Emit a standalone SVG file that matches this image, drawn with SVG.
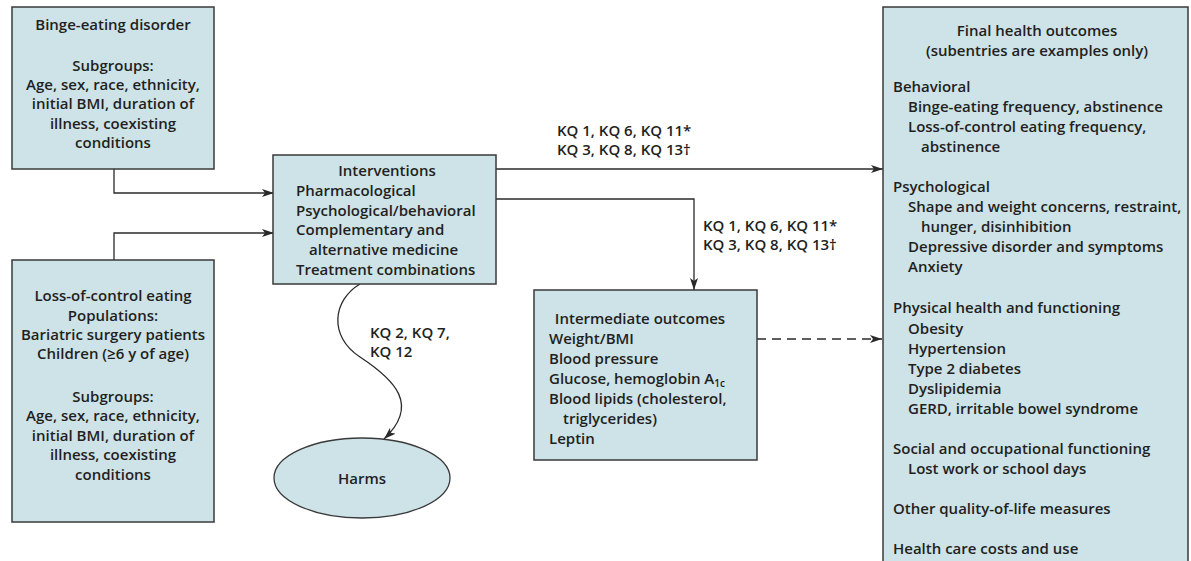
<svg xmlns="http://www.w3.org/2000/svg" width="1191" height="561" viewBox="0 0 1191 561">
<style>
.box{fill:#cde3e8;stroke:#3a3a3a;stroke-width:1.5}
text{font-family:"Open Sans","Noto Sans",sans-serif;font-size:15px;font-weight:600;fill:#231f20}
.c{text-anchor:middle}
.ln{fill:none;stroke:#2a2a2a;stroke-width:1.3}
.dash{stroke-dasharray:9 6}
</style>
<defs>
<marker id="ah" viewBox="0 0 12 8" refX="12" refY="4" markerWidth="12" markerHeight="8" markerUnits="userSpaceOnUse" orient="auto">
<path d="M0,0 L12,4 L0,8 L3,4 Z" fill="#2a2a2a"/>
</marker>
</defs>
<rect width="1191" height="561" fill="#fff"/>
<g id="connectors">
<path class="ln" d="M114,169 V193 H274" marker-end="url(#ah)"/>
<path class="ln" d="M114,260 V233 H274" marker-end="url(#ah)"/>
<path class="ln" d="M496,169 H883" marker-end="url(#ah)"/>
<path class="ln" d="M496,199 H694 V290" marker-end="url(#ah)"/>
<path class="ln dash" d="M757,339 H882" marker-end="url(#ah)"/>
<path class="ln" d="M360,284 C333,300 328,336 360,357 C395,380 420,405 384,439" marker-end="url(#ah)"/>
<text x="557" y="136">KQ 1, KQ 6, KQ 11*</text>
<text x="557" y="155">KQ 3, KQ 8, KQ 13†</text>
<text x="703" y="231">KQ 1, KQ 6, KQ 11*</text>
<text x="703" y="250">KQ 3, KQ 8, KQ 13†</text>
<text x="370" y="338">KQ 2, KQ 7,</text>
<text x="370" y="357">KQ 12</text>
</g>
<g id="binge">
<rect class="box" x="12" y="7" width="202" height="162"/>
<text class="c" x="113" y="30">Binge-eating disorder</text>
<text class="c" x="113" y="71">Subgroups:</text>
<text class="c" x="113" y="90">Age, sex, race, ethnicity,</text>
<text class="c" x="113" y="109">initial BMI, duration of</text>
<text class="c" x="113" y="129">illness, coexisting</text>
<text class="c" x="113" y="148">conditions</text>
</g>
<g id="loc">
<rect class="box" x="12" y="260" width="202" height="262"/>
<text class="c" x="113" y="301">Loss-of-control eating</text>
<text class="c" x="113" y="321">Populations:</text>
<text class="c" x="113" y="340">Bariatric surgery patients</text>
<text class="c" x="113" y="359">Children (≥6 y of age)</text>
<text class="c" x="113" y="402">Subgroups:</text>
<text class="c" x="113" y="421">Age, sex, race, ethnicity,</text>
<text class="c" x="113" y="441">initial BMI, duration of</text>
<text class="c" x="113" y="460">illness, coexisting</text>
<text class="c" x="113" y="480">conditions</text>
</g>
<g id="interventions">
<rect class="box" x="273" y="155" width="223" height="129"/>
<text class="c" x="387" y="176">Interventions</text>
<text x="296" y="196">Pharmacological</text>
<text x="296" y="216">Psychological/behavioral</text>
<text x="296" y="235">Complementary and</text>
<text x="309" y="255">alternative medicine</text>
<text x="296" y="275">Treatment combinations</text>
</g>
<g id="harms">
<ellipse cx="362" cy="478" rx="88" ry="40" fill="#cde3e8" stroke="#3a3a3a" stroke-width="1.3"/>
<text class="c" x="362" y="484">Harms</text>
</g>
<g id="intermediate">
<rect class="box" x="534" y="290" width="223" height="170"/>
<text class="c" x="640" y="324">Intermediate outcomes</text>
<text x="549" y="344">Weight/BMI</text>
<text x="549" y="364">Blood pressure</text>
<text x="549" y="384">Glucose, hemoglobin A<tspan font-size="10" dy="3">1c</tspan></text>
<text x="549" y="404">Blood lipids (cholesterol,</text>
<text x="563" y="424">triglycerides)</text>
<text x="549" y="444">Leptin</text>
</g>
<g id="final">
<rect class="box" x="883" y="7" width="305" height="560"/>
<text class="c" x="1037" y="36">Final health outcomes</text>
<text class="c" x="1037" y="56">(subentries are examples only)</text>
<text x="893" y="92">Behavioral</text>
<text x="908" y="112">Binge-eating frequency, abstinence</text>
<text x="908" y="132">Loss-of-control eating frequency,</text>
<text x="921" y="152">abstinence</text>
<text x="893" y="192">Psychological</text>
<text x="908" y="212">Shape and weight concerns, restraint,</text>
<text x="921" y="232">hunger, disinhibition</text>
<text x="908" y="252">Depressive disorder and symptoms</text>
<text x="908" y="272">Anxiety</text>
<text x="893" y="313">Physical health and functioning</text>
<text x="908" y="334">Obesity</text>
<text x="908" y="354">Hypertension</text>
<text x="908" y="374">Type 2 diabetes</text>
<text x="908" y="394">Dyslipidemia</text>
<text x="908" y="414">GERD, irritable bowel syndrome</text>
<text x="893" y="454">Social and occupational functioning</text>
<text x="908" y="474">Lost work or school days</text>
<text x="893" y="514">Other quality-of-life measures</text>
<text x="893" y="554">Health care costs and use</text>
</g>
</svg>
